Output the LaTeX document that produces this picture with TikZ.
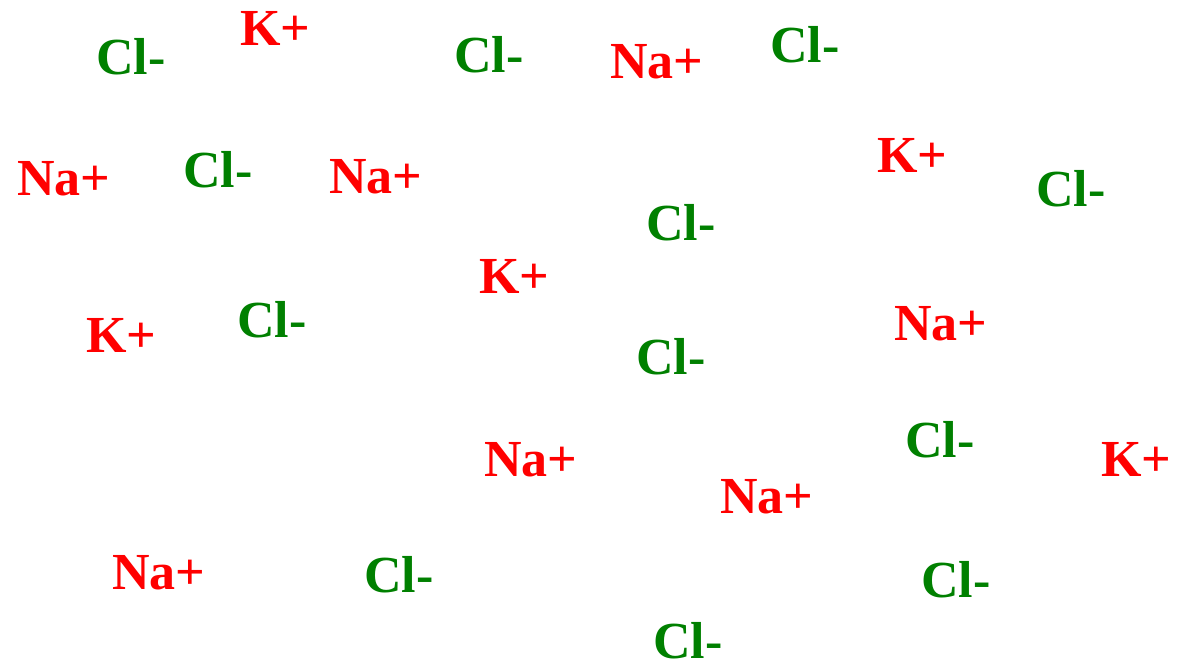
\documentclass[tikz,border=0pt]{standalone}
\usepackage{fontspec}
\setmainfont{Liberation Serif}
\definecolor{clgreen}{RGB}{0,128,0}
\definecolor{ionred}{RGB}{255,0,0}

\begin{document}
\begin{tikzpicture}[x=0.5pt,y=-0.5pt,
  ion/.style={anchor=base west,inner sep=0pt,font=\fontsize{26}{30}\selectfont\bfseries},
  anion/.style={ion,text=clgreen},
  cation/.style={ion,text=ionred}]
\useasboundingbox (0,0) rectangle (1177,665);
% chloride ions
\foreach \x/\y [count=\i] in {96/74, 454/72, 770/62, 183/187, 1036/206, 646/240,
  237/337, 636/374, 905/457, 364/592, 921/597, 653/658}{
  \node[anion] (cl\i) at (\x,\y) {Cl-};
}
% potassium ions
\foreach \x/\y [count=\i] in {240/45, 877/172, 479/293, 86/352, 1101/476}{
  \node[cation] (k\i) at (\x,\y) {K+};
}
% sodium ions
\foreach \x/\y [count=\i] in {610/78, 17/195, 329/193, 894/340, 484/476, 720/513, 112/589}{
  \node[cation] (na\i) at (\x,\y) {Na+};
}
\end{tikzpicture}
\end{document}
